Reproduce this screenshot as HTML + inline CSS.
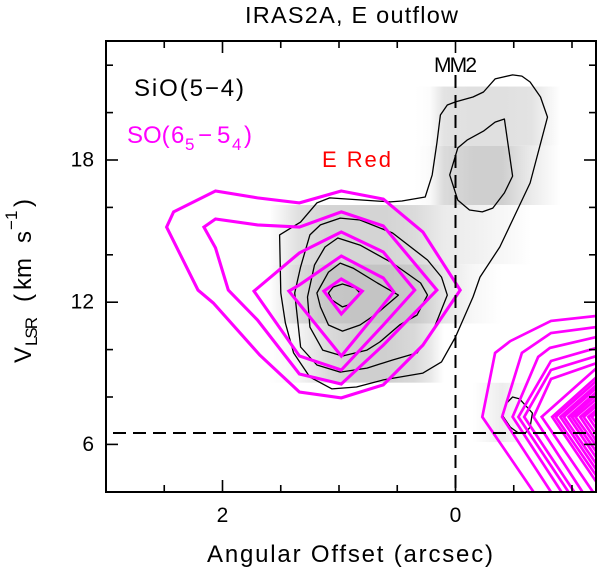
<!DOCTYPE html>
<html>
<head>
<meta charset="utf-8">
<title>IRAS2A, E outflow</title>
<style>
html,body{margin:0;padding:0;background:#fff;}
svg{display:block;}
text{font-family:"Liberation Sans",sans-serif;fill:#000;}
</style>
</head>
<body>
<svg id="chart" xmlns="http://www.w3.org/2000/svg" width="600" height="570" viewBox="0 0 600 570">
  <defs id="defs">
    <clipPath id="plot-clip"><rect x="106" y="41" width="490" height="451"></rect></clipPath>
  </defs>
  <rect width="600" height="570" fill="#fff"></rect>
  <g id="image-layer" clip-path="url(#plot-clip)"></g>
  <g id="sio-layer" clip-path="url(#plot-clip)"></g>
  <g id="so-layer" clip-path="url(#plot-clip)"></g>
  <g id="ref-layer" clip-path="url(#plot-clip)"></g>
  <g id="tick-layer"></g>
  <g id="label-layer"></g>
  <rect x="106" y="41" width="490" height="451" fill="none" stroke="#000" stroke-width="2"></rect>

  <text x="245" y="23" font-size="23.5" textLength="213" lengthAdjust="spacing">IRAS2A, E outflow</text>
  <text x="134" y="96" font-size="24" textLength="110" lengthAdjust="spacing">SiO(5−4)</text>
  <text font-size="24" y="143" style="fill:#f0f"><tspan x="127">SO(</tspan><tspan x="171">6</tspan><tspan x="185" y="150" font-size="17" style="fill:#f0f">5</tspan><tspan x="198" y="143">−</tspan><tspan x="217">5</tspan><tspan x="232" y="150" font-size="17" style="fill:#f0f">4</tspan><tspan x="244" y="143">)</tspan></text>
  <text x="322" y="167" font-size="22" textLength="69" lengthAdjust="spacing" style="fill:#f00">E Red</text>
  <text x="434" y="72" font-size="21" textLength="43" lengthAdjust="spacing">MM2</text>
  <text x="207" y="562" font-size="24" textLength="286" lengthAdjust="spacing">Angular Offset (arcsec)</text>
  <g transform="translate(31,363) rotate(-90)">
    <text x="0" y="0" font-size="24">V</text>
    <text x="17" y="6" font-size="17" textLength="29" lengthAdjust="spacing">LSR</text>
    <text x="61" y="0" font-size="24">(</text>
    <text x="73" y="0" font-size="24" textLength="32" lengthAdjust="spacing">km</text>
    <text x="120" y="0" font-size="24">s</text>
    <text x="133" y="-14" font-size="17">−</text>
    <text x="143" y="-14" font-size="17">1</text>
    <text x="156" y="0" font-size="24">)</text>
  </g>
</svg>
<script>
// Axis values
var xTickValues = [2.5, 2, 1.5, 1, 0.5, 0, -0.5, -1];
var xMajorTicks = [2, 0];
var yTickValues = [22, 20, 18, 16, 14, 12, 10, 8, 6];
var yMajorTicks = [18, 12, 6];
var xTickLabels = ["2", "0"];
var yTickLabels = ["18", "12", "6"];
var mm2Offset = 0;
var systemicVelocity = 6.48;

// Greyscale image: offset columns, velocity rows, darkness per cell
var imageColumns = [1.6, 1.35, 1.1, 0.85, 0.6, 0.35, 0.22, 0.1, -0.15, -0.4, -0.65, -0.9];
var imageRows = [19.85, 17.35, 14.85, 12.35, 9.85, 7.35];
var imageRow0 = [0, 0, 0, 0, 0, 0, 0.01, 0.11, 0.12, 0.12, 0.11, 0];
var imageRow1 = [0, 0, 0, 0, 0, 0, 0.02, 0.14, 0.19, 0.19, 0.08, 0];
var imageRow2 = [0, 0.12, 0.17, 0.17, 0.17, 0.14, 0.11, 0.08, 0.06, 0.03, 0, 0];
var imageRow3 = [0, 0.15, 0.22, 0.23, 0.23, 0.21, 0.16, 0.1, 0.03, 0, 0, 0];
var imageRow4 = [0, 0.04, 0.14, 0.19, 0.19, 0.15, 0.09, 0, 0, 0, 0, 0];
var imageRow5 = [0, 0, 0, 0, 0, 0, 0, 0, 0, 0.07, 0, 0];

// SiO contours: [offset, velocity]
var sioOuter = [[-0.49,21.59],[-0.34,21.42],[-0.24,20.87],[-0.15,20.66],[0,20.45],[0.07,20.32],[0.13,19.9],[0.16,18.72],[0.2,17.37],[0.26,16.44],[0.46,16.27],[0.56,16.23],[0.79,16.31],[1.08,16.4],[1.19,16.19],[1.33,15.38],[1.51,14.84],[1.5,12.39],[1.46,11.12],[1.39,9.86],[1.25,8.84],[1.06,8.34],[0.85,8.42],[0.62,8.72],[0.28,9.01],[0.12,9.48],[0,10.53],[-0.15,12.22],[-0.21,13.06],[-0.38,14.33],[-0.49,15.47],[-0.64,17.03],[-0.79,19.81],[-0.73,20.66],[-0.64,21.29],[-0.57,21.54]];
var sioMm2 = [[-0.42,19.73],[-0.34,19.6],[-0.24,19.22],[-0.1,18.84],[-0.02,18.51],[0.05,17.37],[-0.02,16.31],[-0.12,15.89],[-0.23,15.81],[-0.32,15.97],[-0.42,16.61],[-0.49,17.32]];
var sioLevel3 = [[0.99,15.55],[0.82,15.47],[0.54,14.92],[0.24,13.78],[0.12,13.06],[0.07,12.3],[0.19,10.83],[0.33,9.86],[0.54,9.56],[0.76,9.22],[0.99,9.05],[1.19,9.35],[1.33,10.11],[1.38,12.39],[1.33,13.49],[1.25,14.84],[1.16,15.26]];
var sioLevel4 = [[1.01,14.71],[0.82,14.41],[0.54,13.65],[0.3,12.81],[0.24,12.3],[0.33,11.46],[0.48,11.04],[0.65,10.32],[0.76,9.98],[0.97,9.73],[1.14,9.98],[1.25,10.95],[1.27,12.22],[1.21,13.57],[1.12,14.33]];
var sioLevel5 = [[0.99,13.65],[0.88,13.44],[0.67,12.81],[0.49,12.3],[0.67,11.54],[0.82,11.04],[0.97,10.78],[1.09,11.04],[1.16,11.8],[1.19,12.39],[1.09,13.27]];
var sioLevel6 = [[0.97,12.77],[0.86,12.6],[0.82,12.39],[0.92,11.88],[0.97,11.8],[1.06,12.09],[1.09,12.39],[1.05,12.64]];
var sioLowKnot = [[-0.49,8],[-0.55,7.92],[-0.66,7.32],[-0.64,6.73],[-0.6,6.48],[-0.54,6.48],[-0.47,6.73],[-0.4,7.24],[-0.44,7.75]];

// SO central contours: [offset, velocity]
var soLevel1 = [[0.98,16.69],[0.62,16.35],[0.28,14.96],[-0.04,12.51],[0.28,10.19],[0.62,8.51],[0.98,7.96],[1.34,8.21],[1.68,9.77],[2.08,11.97],[2.21,12.51],[2.48,15.17],[2.42,15.81],[2.06,16.69],[1.7,16.4],[1.34,16.19]];
var soLevel2 = [[0.98,15.81],[0.62,15.22],[0.16,12.51],[0.62,10.19],[0.98,8.55],[1.34,8.97],[1.7,11.25],[1.95,12.51],[2.06,14.29],[2.16,15.17],[2.06,15.51],[1.7,15.26],[1.34,15.17]];
var soLevel3 = [[0.98,14.96],[0.62,14.12],[0.35,12.51],[0.62,11.04],[0.98,9.14],[1.34,9.73],[1.73,12.47],[1.34,14.08]];
var soLevel4 = [[0.98,13.95],[0.62,13.02],[0.53,12.43],[0.98,9.73],[1.43,12.47],[1.34,12.73]];
var soLevel5 = [[0.98,12.98],[0.8,12.47],[0.98,11.5],[1.13,12.47]];

// SO contours of the neighbouring source at lower right (open, clipped by the frame)
var soFan1 = [[-1.21,11.42],[-0.82,11.21],[-0.47,10.36],[-0.34,9.86],[-0.23,7.16],[-0.67,3.99]];
var soFan2 = [[-1.21,10.95],[-0.82,10.7],[-0.57,9.86],[-0.4,7.16],[-0.82,3.99]];
var soFan3 = [[-1.21,10.53],[-0.81,10.07],[-0.71,9.69],[-0.49,7.16],[-0.91,3.99]];
var soFan4 = [[-1.21,10.07],[-0.82,9.52],[-0.54,7.16],[-0.97,3.99]];
var soFan5 = [[-1.21,9.73],[-0.82,9.14],[-0.59,7.16],[-1.02,3.99]];
var soFan6 = [[-1.21,9.43],[-0.82,8.76],[-0.67,7.16],[-1.09,3.99]];
var soFan7 = [[-1.21,9.22],[-0.74,7.16],[-1.18,3.99]];
var soFan8 = [[-1.21,8.84],[-0.83,7.16],[-1.21,4.41]];
var soFan9 = [[-1.21,8.68],[-0.86,7.16],[-1.21,4.67]];
var soFan10 = [[-1.21,8.51],[-0.9,7.16],[-1.21,4.92]];
var soFan11 = [[-1.21,8.38],[-0.93,7.16],[-1.21,5.17]];
var soFan12 = [[-1.21,8.21],[-0.97,7.16],[-1.21,5.43]];
var soFan13 = [[-1.21,8.08],[-1,7.16],[-1.21,5.68]];
var soFan14 = [[-1.21,7.92],[-1.03,7.16],[-1.21,5.93]];
var soFan15 = [[-1.21,7.75],[-1.07,7.16],[-1.21,6.14]];
var soFan16 = [[-1.21,7.62],[-1.1,7.16],[-1.21,6.4]];
var soFan17 = [[-1.21,7.45],[-1.14,7.16],[-1.21,6.65]];
var soFan18 = [[-1.21,7.33],[-1.17,7.16],[-1.21,6.9]];

var NS = 'http://www.w3.org/2000/svg';
function xScale(offset) { return 455.5 - 116.5 * offset; }
function yScale(v) { return 160 + (18 - v) * 23.7; }
function make(tag, parent) {
  var el = document.createElementNS(NS, tag);
  parent.appendChild(el);
  return el;
}
function pointString(points) {
  return points.map(function (p) { return xScale(p[0]).toFixed(1) + ',' + yScale(p[1]).toFixed(1); }).join(' ');
}

// Image rows
var imageData = [imageRow0, imageRow1, imageRow2, imageRow3, imageRow4, imageRow5];
var defs = document.getElementById('defs');
var imageLayer = document.getElementById('image-layer');
var rowHeight = 2.5;
imageRows.forEach(function (rowV, r) {
  var grad = make('linearGradient', defs);
  grad.setAttribute('id', 'row-grad-' + r);
  grad.setAttribute('gradientUnits', 'userSpaceOnUse');
  var x0 = xScale(imageColumns[0]);
  var x1 = xScale(imageColumns[imageColumns.length - 1]);
  grad.setAttribute('x1', x0);
  grad.setAttribute('x2', x1);
  grad.setAttribute('y1', 0);
  grad.setAttribute('y2', 0);
  imageData[r].forEach(function (d, c) {
    var stop = make('stop', grad);
    var g = Math.round(255 * (1 - d));
    stop.setAttribute('offset', ((xScale(imageColumns[c]) - x0) / (x1 - x0)).toFixed(4));
    stop.setAttribute('stop-color', 'rgb(' + g + ',' + g + ',' + g + ')');
  });
  var rect = make('rect', imageLayer);
  
  
  rect.setAttribute('x', x0);
  rect.setAttribute('width', x1 - x0);
  rect.setAttribute('y', yScale(rowV + rowHeight / 2));
  rect.setAttribute('height', yScale(rowV - rowHeight / 2) - yScale(rowV + rowHeight / 2));
  rect.setAttribute('fill', 'url(#row-grad-' + r + ')');
});

// SiO contours
var sioContours = [sioOuter, sioMm2, sioLevel3, sioLevel4, sioLevel5, sioLevel6, sioLowKnot];
var sioLayer = document.getElementById('sio-layer');
sioContours.forEach(function (pts) {
  var poly = make('polygon', sioLayer);
  
  
  poly.setAttribute('points', pointString(pts));
  poly.setAttribute('fill', 'none');
  poly.setAttribute('stroke', '#000');
  poly.setAttribute('stroke-width', '1.3');
  poly.setAttribute('stroke-linejoin', 'round');
});

// SO contours
var soClosed = [soLevel1, soLevel2, soLevel3, soLevel4, soLevel5];
var soOpen = [soFan1, soFan2, soFan3, soFan4, soFan5, soFan6, soFan7, soFan8, soFan9, soFan10, soFan11, soFan12, soFan13, soFan14, soFan15, soFan16, soFan17, soFan18];
var soLayer = document.getElementById('so-layer');
soClosed.forEach(function (pts) {
  var poly = make('polygon', soLayer);
  
  
  poly.setAttribute('points', pointString(pts));
  poly.setAttribute('fill', 'none');
  poly.setAttribute('stroke', '#f0f');
  poly.setAttribute('stroke-width', '3.1');
  poly.setAttribute('stroke-linejoin', 'miter');
});
soOpen.forEach(function (pts) {
  var line = make('polyline', soLayer);
  
  
  line.setAttribute('points', pointString(pts));
  line.setAttribute('fill', 'none');
  line.setAttribute('stroke', '#f0f');
  line.setAttribute('stroke-width', '2.7');
  line.setAttribute('stroke-linejoin', 'miter');
});

// Dashed reference lines
var refLayer = document.getElementById('ref-layer');
var vLine = make('line', refLayer);


vLine.setAttribute('x1', xScale(mm2Offset));
vLine.setAttribute('x2', xScale(mm2Offset));
vLine.setAttribute('y1', 75);
vLine.setAttribute('y2', 492);
vLine.setAttribute('stroke', '#000');
vLine.setAttribute('stroke-width', '2');
vLine.setAttribute('stroke-dasharray', '13 7');
var hLine = make('line', refLayer);


hLine.setAttribute('x1', 113);
hLine.setAttribute('x2', 596);
hLine.setAttribute('y1', yScale(systemicVelocity));
hLine.setAttribute('y2', yScale(systemicVelocity));
hLine.setAttribute('stroke', '#000');
hLine.setAttribute('stroke-width', '2');
hLine.setAttribute('stroke-dasharray', '13 7');

// Ticks
var tickLayer = document.getElementById('tick-layer');
function addTick(x1, y1, x2, y2) {
  var t = make('line', tickLayer);
  
  
  t.setAttribute('x1', x1);
  t.setAttribute('y1', y1);
  t.setAttribute('x2', x2);
  t.setAttribute('y2', y2);
  t.setAttribute('stroke', '#000');
  t.setAttribute('stroke-width', '1.6');
}
xTickValues.forEach(function (v) {
  var len = xMajorTicks.indexOf(v) >= 0 ? 12 : 7;
  addTick(xScale(v), 492, xScale(v), 492 - len);
  addTick(xScale(v), 41, xScale(v), 41 + len);
});
yTickValues.forEach(function (v) {
  var len = yMajorTicks.indexOf(v) >= 0 ? 12 : 7;
  addTick(106, yScale(v), 106 + len, yScale(v));
  addTick(596, yScale(v), 596 - len, yScale(v));
});

// Tick labels
var labelLayer = document.getElementById('label-layer');
xMajorTicks.forEach(function (v, i) {
  var t = make('text', labelLayer);
  
  
  t.setAttribute('x', xScale(v));
  t.setAttribute('y', 522);
  t.setAttribute('font-size', '21');
  t.setAttribute('text-anchor', 'middle');
  t.textContent = xTickLabels[i];
});
yMajorTicks.forEach(function (v, i) {
  var t = make('text', labelLayer);
  
  
  t.setAttribute('x', 94);
  t.setAttribute('y', yScale(v) + 6.5);
  t.setAttribute('font-size', '21');
  t.setAttribute('text-anchor', 'end');
  t.textContent = yTickLabels[i];
});
</script>
</body>
</html>
